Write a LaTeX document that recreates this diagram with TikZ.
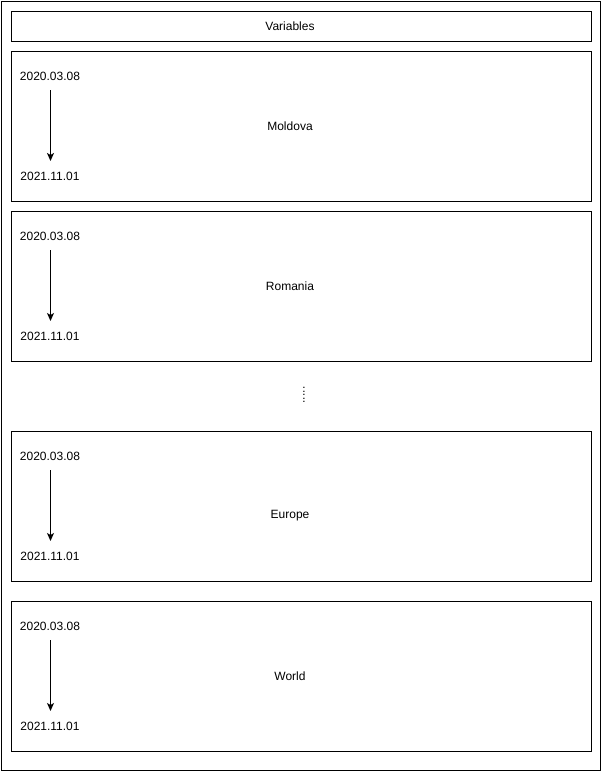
\documentclass[tikz,border=0pt]{standalone}
\usepackage{fontspec}
\setmainfont{Liberation Sans}
\usetikzlibrary{arrows.meta}
\begin{document}
\begin{tikzpicture}[x=1pt,y=-1pt,line width=1pt,
  box/.style={draw,rectangle,minimum width=580pt,minimum height=150pt,anchor=north west,inner sep=0pt},
  lbl/.style={font=\fontsize{12}{14}\selectfont,inner sep=0pt},
  arr/.style={-{Stealth[length=8pt,width=7pt,inset=2pt]}}]
\useasboundingbox (0,0) rectangle (601,771);
\node[draw,rectangle,minimum width=599.5pt,minimum height=769.5pt,anchor=north west,inner sep=0pt] (outer) at (0.5,0.5) {};
\node[draw,rectangle,minimum width=580pt,minimum height=30pt,anchor=north west,inner sep=0pt] (vars) at (10.5,10.5) {};
\node[lbl] (varst) at (290,26) {Variables};
\foreach \n/\y/\o/\t in {mol/50/75/Moldova,rom/210/75/Romania,eur/430/85/Europe,wor/600/75/World}{
  \node[box] (\n) at (10.5,\y.5) {};
  \node[lbl] (\n s) at (50,\y+26) {2020.03.08};
  \node[lbl] (\n e) at (50,\y+126) {2021.11.01};
  \node[lbl] (\n t) at (290,\y+\o+1) {\t};
  \coordinate (\n a) at (50.5,\y+40);
  \coordinate (\n b) at (50.5,\y+111);
  \draw[arr] (\n a) -- (\n b);
}
\node[lbl,rotate=90,font=\fontsize{12}{14}\selectfont] (dots) at (304,395) {.....};
\end{tikzpicture}
\end{document}
